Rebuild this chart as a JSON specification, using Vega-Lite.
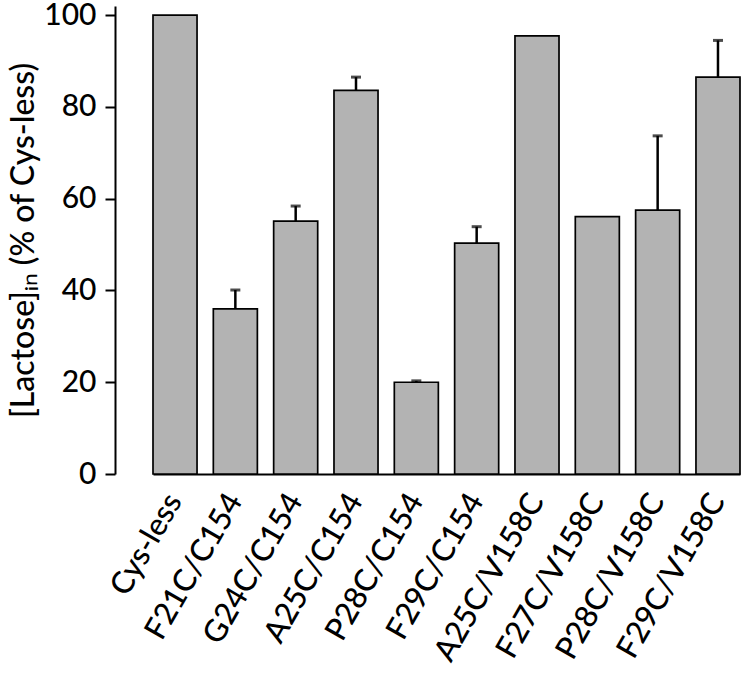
{
  "$schema": "https://vega.github.io/schema/vega-lite/v6.json",
  "width": 635,
  "height": 468,
  "autosize": {"type": "none"},
  "padding": {"left": 115, "top": 6, "right": 0, "bottom": 218},
  "background": "white",
  "config": {
    "view": {"stroke": null},
    "font": "Lato",
    "axis": {"labelFont": "Lato", "titleFont": "Lato", "labelColor": "black", "titleColor": "black", "domainColor": "black", "tickColor": "black", "grid": false, "labelFontWeight": 500, "titleFontWeight": 500, "labelLimit": 400}
  },
  "data": {
    "values": [
      {"mutant": "Cys-less", "value": 100, "upper": null},
      {"mutant": "F21C/C154", "value": 36.0, "upper": 40.1},
      {"mutant": "G24C/C154", "value": 55.1, "upper": 58.4},
      {"mutant": "A25C/C154", "value": 83.6, "upper": 86.5},
      {"mutant": "P28C/C154", "value": 20.0, "upper": 20.3},
      {"mutant": "F29C/C154", "value": 50.3, "upper": 53.9},
      {"mutant": "A25C/V158C", "value": 95.5, "upper": null},
      {"mutant": "F27C/V158C", "value": 56.1, "upper": null},
      {"mutant": "P28C/V158C", "value": 57.5, "upper": 73.7},
      {"mutant": "F29C/V158C", "value": 86.5, "upper": 94.5}
    ]
  },
  "encoding": {
    "x": {
      "field": "mutant",
      "type": "nominal",
      "sort": null,
      "scale": {"range": [38, 625], "paddingInner": 0.27, "paddingOuter": 0},
      "axis": {
        "title": null,
        "ticks": false,
        "domainWidth": 2,
        "labelAngle": -60,
        "labelFontSize": 31,
        "labelPadding": 22,
        "labelAlign": "right",
        "labelBaseline": "middle",
        "labelLimit": 400
      }
    }
  },
  "layer": [
    {
      "mark": {"type": "bar", "color": "#b3b3b3", "stroke": "black", "strokeWidth": 1.7},
      "encoding": {
        "y": {
          "field": "value",
          "type": "quantitative",
          "scale": {"domain": [0, 102], "nice": false},
          "axis": {
            "values": [0, 20, 40, 60, 80, 100],
            "title": "[Lactose]ᵢₙ (% of Cys-less)",
            "titleFontSize": 32,
            "titlePadding": 3,
            "labelFontSize": 30,
            "labelPadding": 9,
            "tickSize": 10,
            "tickWidth": 2,
            "domainWidth": 2
          }
        }
      }
    },
    {
      "transform": [{"filter": "datum.upper != null"}],
      "mark": {"type": "rule", "color": "black", "strokeWidth": 2.5},
      "encoding": {
        "y": {"field": "value", "type": "quantitative"},
        "y2": {"field": "upper"}
      }
    },
    {
      "transform": [{"filter": "datum.upper != null"}],
      "mark": {"type": "tick", "color": "black", "size": 10, "thickness": 3, "orient": "horizontal"},
      "encoding": {
        "y": {"field": "upper", "type": "quantitative"}
      }
    }
  ]
}
